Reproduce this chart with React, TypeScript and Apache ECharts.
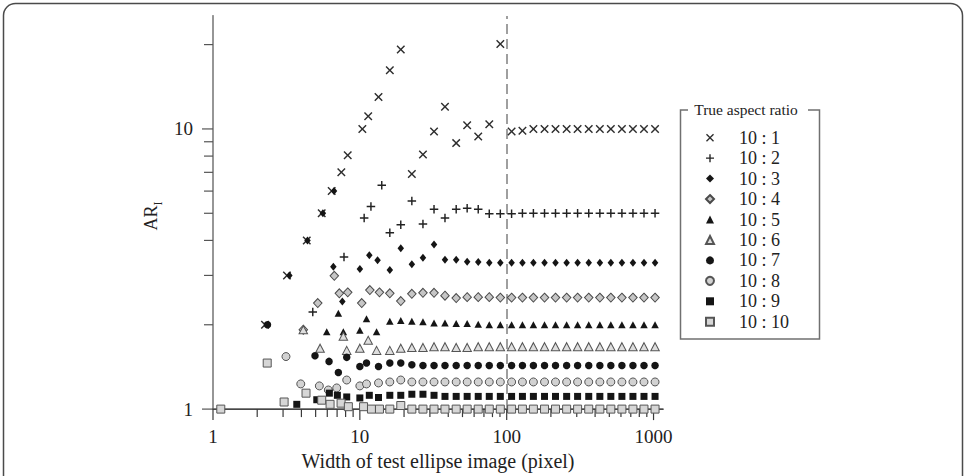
import React, { useEffect, useRef } from 'react';
import * as echarts from 'echarts';

const FONT = 'Liberation Serif';

// Legend entries: true aspect ratio of the test ellipse
const ratioNames = ['10 : 1', '10 : 2', '10 : 3', '10 : 4', '10 : 5', '10 : 6', '10 : 7', '10 : 8', '10 : 9', '10 : 10'];

// Image widths (pixel) on the common geometric sampling grid
const gridWidths = [16, 19, 22.6, 26.9, 32, 38, 45.3, 53.8, 64, 76.1, 90.5, 108, 128, 152, 181, 215, 256, 304, 362, 431, 512, 609, 724, 861, 1024];

// Small-width samples: [width, AR_I]
const small10x1 = [[2.26, 2.0], [3.19, 3.0], [4.35, 4.0], [5.5, 5.0], [6.43, 6.0], [7.48, 7.0], [8.27, 8.05], [10.4, 10.0], [11.4, 11.1], [13.4, 13.0]];
const small10x2 = [[4.78, 2.22], [7.8, 3.49], [10.7, 4.81], [11.9, 5.29], [14.1, 6.3]];
const small10x3 = [[3.31, 3.0], [4.4, 4.0], [5.6, 5.0], [6.67, 6.0], [6.6, 3.22], [7.6, 2.42], [10.0, 3.16], [11.6, 3.54], [13.2, 3.4]];
const small10x4 = [[4.12, 1.92], [5.17, 2.39], [6.7, 2.99], [7.25, 2.59], [8.27, 2.61], [10.3, 2.39], [11.7, 2.66], [13.6, 2.61]];
const small10x5 = [[5.95, 1.89], [7.14, 2.2], [7.72, 1.89], [10.0, 1.91], [11.1, 2.1], [13.0, 1.89]];
const small10x6 = [[4.12, 1.92], [5.36, 1.65], [7.72, 1.82], [8.14, 1.62], [10.0, 1.65], [11.4, 1.76], [13.0, 1.62]];
const small10x7 = [[2.35, 2.0], [4.95, 1.55], [6.17, 1.48], [7.14, 1.35], [8.14, 1.53], [10.0, 1.42], [11.1, 1.46], [13.4, 1.42]];
const small10x8 = [[3.14, 1.54], [3.96, 1.23], [5.3, 1.21], [6.1, 1.17], [6.96, 1.19], [8.14, 1.27], [10.0, 1.21], [11.1, 1.23], [13.4, 1.24]];
const small10x9 = [[3.72, 1.04], [5.09, 1.08], [6.2, 1.14], [7.03, 1.12], [8.14, 1.105], [10.0, 1.096], [11.6, 1.12], [13.4, 1.1]];
const small10x10 = [[1.13, 1.0], [2.34, 1.46], [3.05, 1.06], [4.3, 1.14], [5.5, 1.076], [6.27, 1.04], [7.45, 1.05], [8.35, 1.02], [10.6, 1.02], [12.0, 1.0], [13.6, 1.0]];

// AR_I measured at each width of gridWidths
const grid10x1 = [16.2, 19.2, 6.9, 8.1, 9.8, 12.0, 8.9, 10.3, 9.4, 10.4, 20.1, 9.8, 9.85, 10, 10, 10, 10, 10, 10, 10, 10, 10, 10, 10, 10];
const grid10x2 = [4.26, 4.55, 5.53, 4.58, 5.17, 4.81, 5.17, 5.21, 5.17, 4.98, 4.98, 4.98, 5, 5, 5, 5, 5, 5, 5, 5, 5, 5, 5, 5, 5];
const grid10x3 = [3.14, 3.75, 3.29, 3.47, 3.87, 3.41, 3.41, 3.36, 3.35, 3.33, 3.33, 3.33, 3.33, 3.33, 3.33, 3.33, 3.33, 3.33, 3.33, 3.33, 3.33, 3.33, 3.33, 3.33, 3.33];
const grid10x4 = [2.59, 2.43, 2.58, 2.6, 2.6, 2.54, 2.49, 2.51, 2.51, 2.51, 2.5, 2.5, 2.5, 2.5, 2.5, 2.5, 2.5, 2.5, 2.5, 2.5, 2.5, 2.5, 2.5, 2.5, 2.5];
const grid10x5 = [2.06, 2.07, 2.06, 2.05, 2.03, 2.03, 2.02, 2.02, 2.01, 2.0, 2.0, 2.0, 2.0, 2.0, 2.0, 2.0, 2.0, 2.0, 2.0, 2.0, 2.0, 2.0, 2.0, 2.0, 2.0];
const grid10x6 = [1.62, 1.65, 1.66, 1.66, 1.67, 1.67, 1.66, 1.66, 1.67, 1.67, 1.67, 1.67, 1.67, 1.67, 1.67, 1.67, 1.67, 1.67, 1.67, 1.67, 1.67, 1.67, 1.67, 1.67, 1.67];
const grid10x7 = [1.46, 1.46, 1.44, 1.43, 1.43, 1.43, 1.43, 1.43, 1.43, 1.43, 1.43, 1.43, 1.43, 1.43, 1.43, 1.43, 1.43, 1.43, 1.43, 1.43, 1.43, 1.43, 1.43, 1.43, 1.43];
const grid10x8 = [1.25, 1.27, 1.25, 1.25, 1.25, 1.25, 1.25, 1.25, 1.25, 1.25, 1.25, 1.25, 1.25, 1.25, 1.25, 1.25, 1.25, 1.25, 1.25, 1.25, 1.25, 1.25, 1.25, 1.25, 1.25];
const grid10x9 = [1.12, 1.12, 1.13, 1.13, 1.12, 1.11, 1.11, 1.11, 1.11, 1.11, 1.11, 1.11, 1.11, 1.11, 1.11, 1.11, 1.11, 1.11, 1.11, 1.11, 1.11, 1.11, 1.11, 1.11, 1.11];
const grid10x10 = [1.0, 1.03, 1.0, 1.0, 1.0, 1.0, 1.0, 1.0, 1.0, 1.0, 1.0, 1.0, 1.0, 1.0, 1.0, 1.0, 1.0, 1.0, 1.0, 1.0, 1.0, 1.0, 1.0, 1.0, 1.0];

const smallSets = [small10x1, small10x2, small10x3, small10x4, small10x5, small10x6, small10x7, small10x8, small10x9, small10x10];
const gridSets = [grid10x1, grid10x2, grid10x3, grid10x4, grid10x5, grid10x6, grid10x7, grid10x8, grid10x9, grid10x10];

// Axis ticks
const xMajorTicks = [1, 10, 100, 1000];
const xMinorTicks = [2, 3, 4, 5, 6, 7, 8, 9, 20, 30, 40, 50, 60, 70, 80, 90, 200, 300, 400, 500, 600, 700, 800, 900];
const yMajorTicks = [1, 10];
const yMinorTicks = [2, 3, 4, 5, 6, 7, 8, 9, 20];
const cutoffWidth = 100;

const crossPath = 'path://M1.2,0 L5,3.8 L8.8,0 L10,1.2 L6.2,5 L10,8.8 L8.8,10 L5,6.2 L1.2,10 L0,8.8 L3.8,5 L0,1.2 Z';
const plusPath = 'path://M4.15,0 H5.85 V4.15 H10 V5.85 H5.85 V10 H4.15 V5.85 H0 V4.15 H4.15 Z';

const markerStyles: any[] = [
  { symbol: crossPath, size: 8.5, color: '#2e2e2e' },
  { symbol: plusPath, size: 8.5, color: '#222' },
  { symbol: 'diamond', size: [6.5, 8], color: '#151515' },
  { symbol: 'diamond', size: [8.5, 9], color: '#c6c6c6', border: '#4a4a4a' },
  { symbol: 'triangle', size: [7.5, 7], color: '#151515' },
  { symbol: 'triangle', size: [8.5, 8], color: '#dedede', border: '#555' },
  { symbol: 'circle', size: 7.5, color: '#151515' },
  { symbol: 'circle', size: 8, color: '#d2d2d2', border: '#555' },
  { symbol: 'rect', size: 7, color: '#151515' },
  { symbol: 'rect', size: 8, color: '#d6d6d6', border: '#555' },
];

const isPow10 = (v: number) => Math.abs(Math.log10(v) - Math.round(Math.log10(v))) < 1e-6;

export default function App() {
  const ref = useRef<HTMLDivElement>(null);

  useEffect(() => {
    if (!ref.current) return;
    const chart = echarts.init(ref.current, null, { renderer: 'svg' });

    const scatterSeries = ratioNames.map((name, i) => {
      const st = markerStyles[i];
      const data = smallSets[i].concat(gridWidths.map((w, j) => [w, gridSets[i][j]]));
      const s: any = {
        name,
        type: 'scatter',
        data,
        symbol: st.symbol,
        symbolSize: st.size,
        clip: false,
        silent: true,
        z: 5 + i,
        itemStyle: {
          color: st.color,
          borderColor: st.border || st.color,
          borderWidth: st.border ? 1 : 0,
          opacity: 1,
        },
      };
      if (i === 0) {
        s.markLine = {
          silent: true,
          symbol: 'none',
          label: { show: false },
          lineStyle: { type: [10, 5], color: '#808080', width: 1.5 },
          data: [{ xAxis: cutoffWidth }],
        };
      }
      return s;
    });

    const tickData: number[][] = [];
    xMajorTicks.forEach((v) => tickData.push([v, 1, 1]));
    xMinorTicks.forEach((v) => tickData.push([v, 1, 0]));
    yMajorTicks.forEach((v) => tickData.push([1, v, 3]));
    yMinorTicks.forEach((v) => tickData.push([1, v, 2]));

    const tickSeries: any = {
      type: 'custom',
      silent: true,
      z: 1,
      clip: false,
      data: tickData,
      encode: { x: 0, y: 1 },
      renderItem: (_params: any, api: any) => {
        const kind = api.value(2);
        const p = api.coord([api.value(0), api.value(1)]);
        let shape;
        if (kind < 2) {
          const len = kind === 1 ? 11 : 8;
          shape = { x1: p[0], y1: p[1], x2: p[0], y2: p[1] + len };
        } else {
          const len = kind === 3 ? 11 : 9;
          shape = { x1: p[0] - len, y1: p[1], x2: p[0], y2: p[1] };
        }
        return {
          type: 'line',
          shape,
          style: { stroke: kind < 2 ? '#3a3a3a' : '#555', lineWidth: 1.2 },
        };
      },
    };

    chart.setOption({
      animation: false,
      backgroundColor: '#ffffff',
      textStyle: { fontFamily: FONT },
      grid: { left: 213, right: 304, top: 16, bottom: 63, containLabel: false },
      xAxis: [
        {
          type: 'log',
          logBase: 10,
          min: 1,
          max: 1160,
          position: 'bottom',
          name: 'Width of test ellipse image (pixel)',
          nameLocation: 'middle',
          nameGap: 38,
          nameTextStyle: { fontFamily: FONT, fontSize: 20, color: '#222' },
          axisLine: { show: true, onZero: false, lineStyle: { color: '#222', width: 1 } },
          axisTick: { show: false },
          splitLine: { show: false },
          minorTick: { show: false },
          axisLabel: {
            margin: 18,
            fontFamily: FONT,
            fontSize: 19,
            color: '#222',
            formatter: (v: number) => (isPow10(v) ? String(Math.round(v)) : ''),
          },
        },
        {
          type: 'value',
          min: 0,
          max: 1,
          position: 'top',
          axisLine: { show: true, lineStyle: { color: '#555', width: 1.5 } },
          axisTick: { show: false },
          axisLabel: { show: false },
          splitLine: { show: false },
        },
      ],
      yAxis: [
        {
          type: 'log',
          logBase: 10,
          min: 1,
          max: 25.3,
          axisLine: { show: true, onZero: false, lineStyle: { color: '#8c8c8c', width: 2 } },
          axisTick: { show: false },
          splitLine: { show: false },
          minorTick: { show: false },
          axisLabel: {
            margin: 20,
            fontFamily: FONT,
            fontSize: 19,
            color: '#222',
            formatter: (v: number) => (isPow10(v) ? String(Math.round(v)) : ''),
          },
        },
        {
          type: 'value',
          min: 0,
          max: 1,
          position: 'right',
          axisLine: { show: true, lineStyle: { color: '#9a9a9a', width: 1.5 } },
          axisTick: { show: false },
          axisLabel: { show: false },
          splitLine: { show: false },
        },
      ],
      legend: {
        orient: 'vertical',
        left: 705,
        top: 127.7,
        padding: 0,
        itemWidth: 8,
        itemHeight: 8,
        itemGap: 0.45,
        selectedMode: false,
        data: ratioNames,
        textStyle: {
          fontFamily: FONT,
          fontSize: 18,
          color: '#222',
          lineHeight: 20,
          padding: [0, 0, 0, 20],
        },
      },
      graphic: [
        {
          type: 'rect',
          silent: true,
          shape: { x: 3.5, y: 3.5, width: 959, height: 540, r: 12 },
          style: { fill: 'none', stroke: '#4a4a4a', lineWidth: 1.5 },
        },
        {
          type: 'polyline',
          silent: true,
          shape: { points: [[688, 110], [680.5, 110], [680.5, 339], [819.5, 339], [819.5, 110], [808, 110]] },
          style: { fill: 'none', stroke: '#707070', lineWidth: 1.5 },
        },
        {
          type: 'text',
          silent: true,
          x: 746,
          y: 109,
          style: {
            text: 'True aspect ratio',
            fontFamily: FONT,
            fontSize: 15.5,
            fill: '#222',
            align: 'center',
            verticalAlign: 'middle',
          },
        },
        {
          type: 'text',
          silent: true,
          x: 150.5,
          y: 216,
          rotation: Math.PI / 2,
          style: {
            text: '{a|AR}{b|I}',
            align: 'center',
            verticalAlign: 'middle',
            fill: '#222',
            rich: {
              a: { fontFamily: FONT, fontSize: 18, lineHeight: 26, fill: '#222' },
              b: { fontFamily: FONT, fontSize: 12, lineHeight: 12, verticalAlign: 'bottom', fill: '#222' },
            },
          },
        },
      ],
      series: [tickSeries, ...scatterSeries],
    });

    return () => {
      chart.dispose();
    };
  }, []);

  return (
    <div
      ref={ref}
      style={{ position: 'absolute', left: 0, top: 0, width: 967, height: 476, background: '#fff' }}
    />
  );
}
